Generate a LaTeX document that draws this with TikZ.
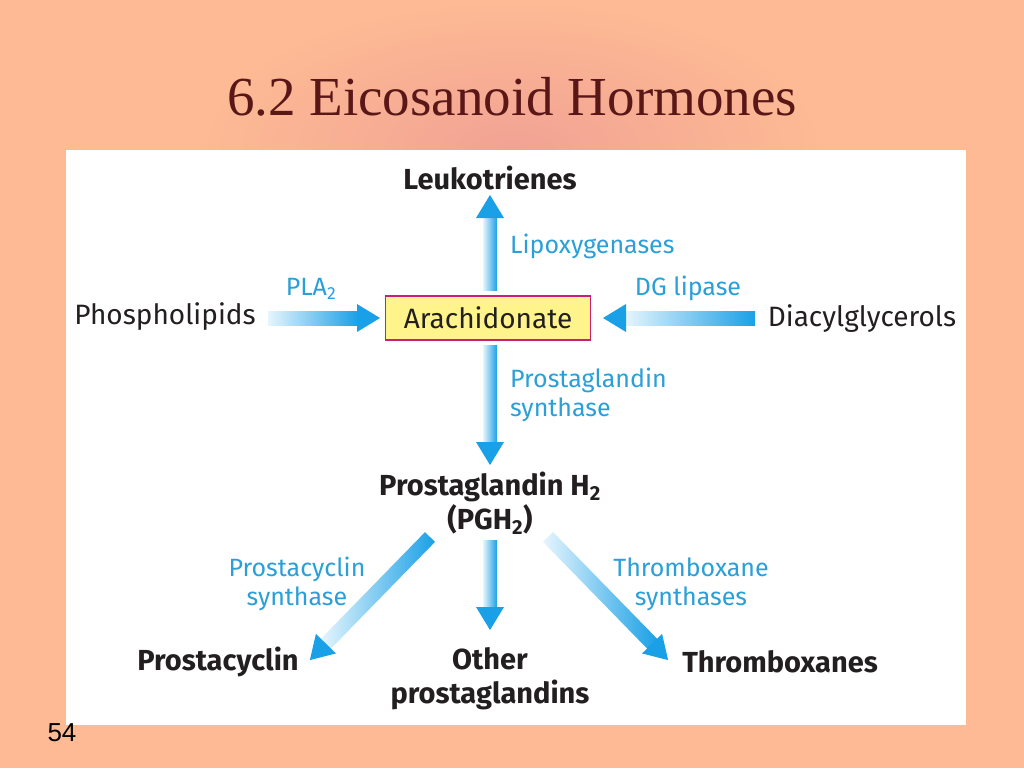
\documentclass[tikz,border=0pt]{standalone}
\usepackage{fontspec}
\setmainfont{Fira Sans}
\newfontfamily\titlefont{Liberation Serif}
\newfontfamily\numfont{Liberation Sans}
\definecolor{bgsalmon}{HTML}{FDBA94}
\definecolor{bgpink}{HTML}{F2A294}
\definecolor{arrblue}{HTML}{1AA0E6}
\definecolor{arrlight}{HTML}{E6F5FD}
\definecolor{lblblue}{HTML}{2A9FD8}
\definecolor{dark}{HTML}{231F20}
\definecolor{boxyellow}{HTML}{FFF48C}
\definecolor{boxborder}{HTML}{C8207A}
\newcommand\garr[3]{%
  \begin{scope}[shift={#1},rotate=-#2]
    \shade[left color=arrlight,right color=arrblue] (0,-7) rectangle (#3-22,7);
    \fill[arrblue] (#3-23,-14) -- (#3,0) -- (#3-23,14) -- cycle;
  \end{scope}}
\tikzset{
  lbl/.style={text=lblblue,font=\fontsize{25}{29}\selectfont,align=center,inner sep=0},
  main/.style={text=dark,font=\fontsize{29}{34}\selectfont\bfseries,align=center,inner sep=0},
  plain/.style={text=dark,font=\fontsize{28}{32}\selectfont,inner sep=0}
}
\begin{document}
\begin{tikzpicture}[x=1pt,y=-1pt]
\useasboundingbox (0,0) rectangle (1024,768);
\fill[bgsalmon] (0,0) rectangle (1024,768);
\shade[inner color=bgpink,outer color=bgsalmon] (200,0) rectangle (824,300);
\fill[white] (66,150) rectangle (966,725);
\node[text=dark!75!red,font=\titlefont\fontsize{55}{60}\selectfont] (title) at (512,97) {6.2 Eicosanoid Hormones};
\node[font=\numfont\fontsize{26}{30}\selectfont,text=black] (num) at (62,733) {54};
% arrows
\garr{(490,290)}{-90}{95}
\garr{(268,318)}{0}{112}
\garr{(755,318)}{180}{152}
\garr{(490,345)}{90}{120}
\garr{(490,540)}{90}{90}
\garr{(430,537)}{134.3}{172}
\garr{(548,537)}{45.7}{172}
% nodes
\node[main] (leuk) at (490,178) {Leukotrienes};
\node[lbl,anchor=west] (lipox) at (510,246) {Lipoxygenases};
\node[lbl] (pla) at (311,289) {PLA\textsubscript{2}};
\node[lbl] (dg) at (688,288) {DG lipase};
\node[plain] (phos) at (165,317) {Phospholipids};
\node[plain] (diac) at (862,319) {Diacylglycerols};
\node[plain,fill=boxyellow,draw=boxborder,line width=1.5pt,minimum width=205,minimum height=44] (arach) at (488,318) {Arachidonate};
\node[lbl,anchor=west,align=left] (pgs) at (510,395) {Prostaglandin\\synthase};
\node[main] (pgh) at (490,503) {Prostaglandin H\textsubscript{2}\\(PGH\textsubscript{2})};
\node[lbl] (pcs) at (297,584) {Prostacyclin\\synthase};
\node[lbl] (txs) at (691,584) {Thromboxane\\synthases};
\node[main] (pc) at (218,662) {Prostacyclin};
\node[main] (other) at (490,679) {Other\\prostaglandins};
\node[main] (tx) at (780,662) {Thromboxanes};
\end{tikzpicture}
\end{document}
